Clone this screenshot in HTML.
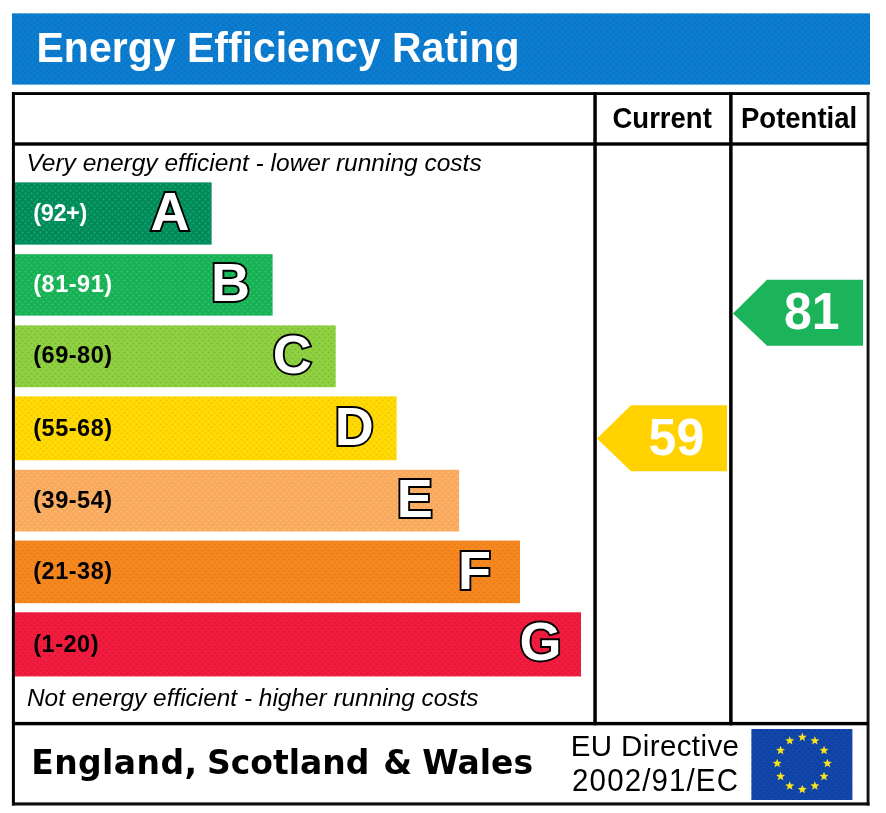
<!DOCTYPE html>
<html lang="en">
<head>
<meta charset="utf-8">
<title>Energy Efficiency Rating</title>
<style>
html,body{margin:0;padding:0;background:#fff;}
body{width:886px;height:813px;position:relative;overflow:hidden;font-family:"Liberation Sans",sans-serif;color:#000;}
.abs{position:absolute;}
#title{transform:scaleY(1.028);transform-origin:50% 81%;left:36.5px;top:24.7px;font-weight:bold;font-size:41px;line-height:46px;color:#fff;white-space:nowrap;}
.colh{transform:scaleY(1.045);transform-origin:50% 82%;font-weight:bold;font-size:27.5px;line-height:30px;white-space:nowrap;}
.it{font-style:italic;font-size:24.5px;line-height:26px;white-space:nowrap;}
.rng{left:33.3px;font-weight:bold;font-size:23.5px;line-height:26px;letter-spacing:0.5px;white-space:nowrap;}
.let{font-weight:bold;font-size:54px;line-height:60px;color:#fff;-webkit-text-stroke:3.8px #000;paint-order:stroke fill;white-space:nowrap;text-align:right;width:91px;}
.num{transform:scaleY(1.03);transform-origin:50% 81%;font-weight:bold;font-size:50px;line-height:56px;color:#fff;white-space:nowrap;text-align:center;width:100px;}
#esw{transform:scaleY(1.03);transform-origin:0 77%;left:0;top:740.5px;width:560px;height:44px;font-family:"DejaVu Sans","Liberation Sans",sans-serif;font-weight:bold;font-size:33px;line-height:44px;white-space:nowrap;}
#eu{left:560px;top:729px;width:190px;text-align:center;font-size:29.5px;line-height:34.7px;white-space:nowrap;}
#eu span{display:block;transform:scaleY(1.035);transform-origin:50% 79.5%;}
</style>
</head>
<body>
<svg class="abs" style="left:0;top:0;" width="886" height="813" viewBox="0 0 886 813">
<defs>
<pattern id="p0" width="6" height="6" patternUnits="userSpaceOnUse"><circle cx="1.5" cy="1.5" r="1.05" fill="#3cd296" fill-opacity="0.4"/><circle cx="4.5" cy="4.5" r="1.05" fill="#3cd296" fill-opacity="0.4"/></pattern>
<pattern id="p1" width="6" height="6" patternUnits="userSpaceOnUse"><circle cx="1.5" cy="1.5" r="1.05" fill="#58e68a" fill-opacity="0.4"/><circle cx="4.5" cy="4.5" r="1.05" fill="#58e68a" fill-opacity="0.4"/></pattern>
<pattern id="p2" width="6" height="6" patternUnits="userSpaceOnUse"><circle cx="1.5" cy="1.5" r="1.05" fill="#5c9c14" fill-opacity="0.4"/><circle cx="4.5" cy="4.5" r="1.05" fill="#5c9c14" fill-opacity="0.4"/></pattern>
<pattern id="p3" width="6" height="6" patternUnits="userSpaceOnUse"><circle cx="1.5" cy="1.5" r="1.05" fill="#e0a800" fill-opacity="0.4"/><circle cx="4.5" cy="4.5" r="1.05" fill="#e0a800" fill-opacity="0.4"/></pattern>
<pattern id="p4" width="6" height="6" patternUnits="userSpaceOnUse"><circle cx="1.5" cy="1.5" r="1.05" fill="#ffd890" fill-opacity="0.4"/><circle cx="4.5" cy="4.5" r="1.05" fill="#ffd890" fill-opacity="0.4"/></pattern>
<pattern id="p5" width="6" height="6" patternUnits="userSpaceOnUse"><circle cx="1.5" cy="1.5" r="1.05" fill="#d8600a" fill-opacity="0.4"/><circle cx="4.5" cy="4.5" r="1.05" fill="#d8600a" fill-opacity="0.4"/></pattern>
<pattern id="p6" width="6" height="6" patternUnits="userSpaceOnUse"><circle cx="1.5" cy="1.5" r="1.05" fill="#b80a2c" fill-opacity="0.4"/><circle cx="4.5" cy="4.5" r="1.05" fill="#b80a2c" fill-opacity="0.4"/></pattern>
<pattern id="ph" width="6" height="6" patternUnits="userSpaceOnUse"><circle cx="1.5" cy="1.5" r="1.05" fill="#0058b0" fill-opacity="0.4"/><circle cx="4.5" cy="4.5" r="1.05" fill="#0058b0" fill-opacity="0.4"/></pattern>
<pattern id="pf" width="6" height="6" patternUnits="userSpaceOnUse"><circle cx="1.5" cy="1.5" r="1.05" fill="#061e86" fill-opacity="0.4"/><circle cx="4.5" cy="4.5" r="1.05" fill="#061e86" fill-opacity="0.4"/></pattern>
</defs>
<rect x="12" y="13.4" width="858" height="71.2" fill="#0d7dcf"/>
<rect x="12" y="13.4" width="858" height="71.2" fill="url(#ph)"/>
<rect x="14.8" y="182.4" width="196.8" height="62.2" fill="#008a5a"/>
<rect x="14.8" y="182.4" width="196.8" height="62.2" fill="url(#p0)"/>
<rect x="14.8" y="254.2" width="257.8" height="61.4" fill="#17b055"/>
<rect x="14.8" y="254.2" width="257.8" height="61.4" fill="url(#p1)"/>
<rect x="14.8" y="325.4" width="320.9" height="61.8" fill="#90d043"/>
<rect x="14.8" y="325.4" width="320.9" height="61.8" fill="url(#p2)"/>
<rect x="14.8" y="396.4" width="381.8" height="63.8" fill="#ffda03"/>
<rect x="14.8" y="396.4" width="381.8" height="63.8" fill="url(#p3)"/>
<rect x="14.8" y="469.8" width="444.3" height="61.7" fill="#f9a95e"/>
<rect x="14.8" y="469.8" width="444.3" height="61.7" fill="url(#p4)"/>
<rect x="14.8" y="540.6" width="505.2" height="62.6" fill="#f68820"/>
<rect x="14.8" y="540.6" width="505.2" height="62.6" fill="url(#p5)"/>
<rect x="14.8" y="612.3" width="566.2" height="64.1" fill="#f21c3e"/>
<rect x="14.8" y="612.3" width="566.2" height="64.1" fill="url(#p6)"/>
<rect x="12" y="92.1" width="857.5" height="2.9" fill="#000"/>
<rect x="11.9" y="92.1" width="3" height="713.4" fill="#000"/>
<rect x="866.6" y="92.1" width="2.9" height="713.4" fill="#111"/>
<rect x="12" y="802.4" width="857.5" height="3.1" fill="#0c0c0c"/>
<rect x="12" y="142.3" width="857" height="3.4" fill="#000"/>
<rect x="12" y="721.9" width="857" height="3.4" fill="#000"/>
<rect x="593.3" y="92.1" width="3.5" height="633.2" fill="#000"/>
<rect x="729.1" y="92.1" width="3.5" height="633.2" fill="#000"/>
<polygon points="597,438.5 631,405.3 727,405.3 727,471.2 631,471.2" fill="#ffd200"/>
<polygon points="733,313.4 767,279.8 863,279.8 863,345.7 767,345.7" fill="#1cb45a"/>
<rect x="751.4" y="729" width="101" height="71" fill="#1247aa"/>
<rect x="751.4" y="729" width="101" height="71" fill="url(#pf)"/>
<g fill="#f6e21e">
<polygon points="802.30,732.60 803.50,735.64 806.77,735.85 804.25,737.93 805.06,741.10 802.30,739.35 799.54,741.10 800.35,737.93 797.83,735.85 801.10,735.64"/>
<polygon points="814.85,736.10 816.05,739.14 819.32,739.34 816.80,741.43 817.61,744.60 814.85,742.85 812.09,744.60 812.90,741.43 810.38,739.34 813.65,739.14"/>
<polygon points="824.04,745.65 825.24,748.69 828.51,748.90 825.99,750.98 826.80,754.15 824.04,752.40 821.27,754.15 822.09,750.98 819.57,748.90 822.83,748.69"/>
<polygon points="827.40,758.70 828.60,761.74 831.87,761.95 829.35,764.03 830.16,767.20 827.40,765.45 824.64,767.20 825.45,764.03 822.93,761.95 826.20,761.74"/>
<polygon points="824.04,771.75 825.24,774.79 828.51,775.00 825.99,777.08 826.80,780.25 824.04,778.50 821.27,780.25 822.09,777.08 819.57,775.00 822.83,774.79"/>
<polygon points="814.85,781.30 816.05,784.34 819.32,784.55 816.80,786.64 817.61,789.81 814.85,788.05 812.09,789.81 812.90,786.64 810.38,784.55 813.65,784.34"/>
<polygon points="802.30,784.80 803.50,787.84 806.77,788.05 804.25,790.13 805.06,793.30 802.30,791.55 799.54,793.30 800.35,790.13 797.83,788.05 801.10,787.84"/>
<polygon points="789.75,781.30 790.95,784.34 794.22,784.55 791.70,786.64 792.51,789.81 789.75,788.05 786.99,789.81 787.80,786.64 785.28,784.55 788.55,784.34"/>
<polygon points="780.56,771.75 781.77,774.79 785.03,775.00 782.51,777.08 783.33,780.25 780.56,778.50 777.80,780.25 778.61,777.08 776.09,775.00 779.36,774.79"/>
<polygon points="777.20,758.70 778.40,761.74 781.67,761.95 779.15,764.03 779.96,767.20 777.20,765.45 774.44,767.20 775.25,764.03 772.73,761.95 776.00,761.74"/>
<polygon points="780.56,745.65 781.77,748.69 785.03,748.90 782.51,750.98 783.33,754.15 780.56,752.40 777.80,754.15 778.61,750.98 776.09,748.90 779.36,748.69"/>
<polygon points="789.75,736.10 790.95,739.14 794.22,739.34 791.70,741.43 792.51,744.60 789.75,742.85 786.99,744.60 787.80,741.43 785.28,739.34 788.55,739.14"/>
</g>
</svg>
<div class="abs" id="title">Energy Efficiency Rating</div>
<div class="abs colh" id="cur" style="left:612.5px;top:103.5px;">Current</div>
<div class="abs colh" id="pot" style="left:741px;top:103.5px;">Potential</div>

<div class="abs it" id="very" style="left:26.4px;top:149.8px;">Very energy efficient - lower running costs</div>
<div class="abs it" id="not" style="left:27px;top:684.5px;font-size:24.4px;">Not energy efficient - higher running costs</div>

<div class="abs rng" style="top:200px;color:#fff;letter-spacing:-0.4px;">(92+)</div>
<div class="abs rng" style="top:270.5px;color:#fff;">(81-91)</div>
<div class="abs rng" style="top:342.2px;">(69-80)</div>
<div class="abs rng" style="top:414.5px;">(55-68)</div>
<div class="abs rng" style="top:486.6px;">(39-54)</div>
<div class="abs rng" style="top:557.8px;">(21-38)</div>
<div class="abs rng" style="top:631.1px;">(1-20)</div>

<div class="abs let" id="lA" style="left:98.5px;top:181.3px;">A</div>
<div class="abs let" id="lB" style="left:159px;top:252.3px;">B</div>
<div class="abs let" id="lC" style="left:220.7px;top:324.3px;">C</div>
<div class="abs let" id="lD" style="left:282.7px;top:396.3px;">D</div>
<div class="abs let" id="lE" style="left:341.8px;top:468.3px;">E</div>
<div class="abs let" id="lF" style="left:399.9px;top:540.3px;">F</div>
<div class="abs let" id="lG" style="left:470.5px;top:611.3px;">G</div>

<div class="abs num" id="n59" style="left:626.4px;top:410.2px;">59</div>
<div class="abs num" id="n81" style="left:761.8px;top:284.3px;">81</div>

<div class="abs" id="esw"><span class="abs" style="left:31.2px;letter-spacing:.42px;">England,</span> <span class="abs" style="left:207px;">Scotland</span> <span class="abs" style="left:383.3px;">&amp;</span> <span class="abs" style="left:422.3px;">Wales</span></div>
<div class="abs" id="eu"><span style="letter-spacing:0.4px;transform:scaleY(1.01);">EU Directive</span><span style="letter-spacing:1.12px;padding-left:1.2px;">2002/91/EC</span></div>
</body>
</html>
